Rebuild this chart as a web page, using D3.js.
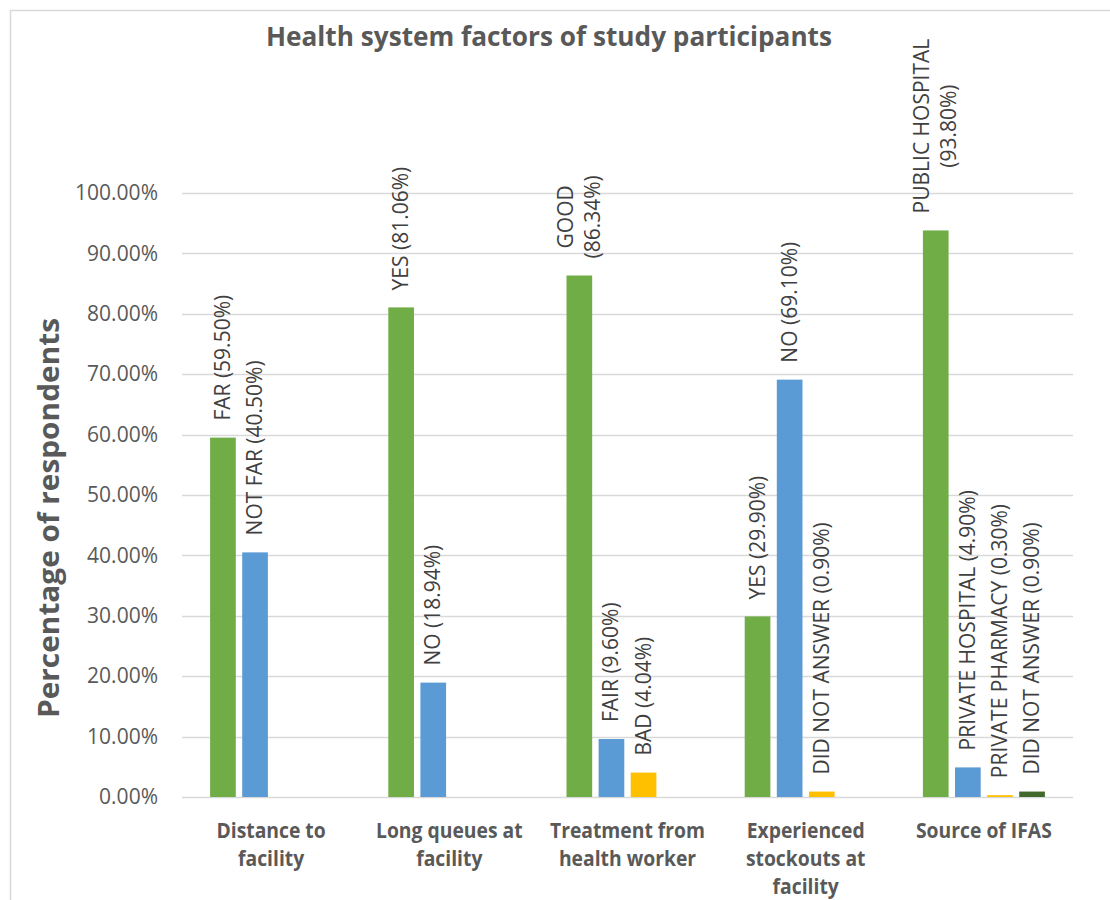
<!DOCTYPE html>
<html><head><meta charset="utf-8">
<script src="https://cdn.jsdelivr.net/npm/d3@7"></script>
<style>body{margin:0;background:#fff}svg{display:block}</style>
</head><body>
<svg id="c" width="1110" height="900"></svg>
<script>
const categories = [["Distance to","facility"],["Long queues at","facility"],["Treatment from","health worker"],["Experienced","stockouts at","facility"],["Source of IFAS"]];
const series1 = [59.50, 81.06, 86.34, 29.90, 93.80];
const series2 = [40.50, 18.94, 9.60, 69.10, 4.90];
const series3 = [null, null, 4.04, 0.90, 0.30];
const series4 = [null, null, null, null, 0.90];
const names1 = ["FAR","YES","GOOD","YES","PUBLIC HOSPITAL"];
const names2 = ["NOT FAR","NO","FAIR","NO","PRIVATE HOSPITAL"];
const names3 = [null,null,"BAD","DID NOT ANSWER","PRIVATE PHARMACY"];
const names4 = [null,null,null,null,"DID NOT ANSWER"];
const yTicks = [0,10,20,30,40,50,60,70,80,90,100];
const colors = ["#70AD47","#5B9BD5","#FFC000","#43682B"];

(function(){
const svg = d3.select("#c");
const pLeft = 182, pRight = 1073, pTop = 193, pBottom = 797;
const y = d3.scaleLinear().domain([0,100]).range([pBottom, pTop]);
const x0 = d3.scaleBand().domain(d3.range(categories.length)).range([pLeft, pRight]).paddingInner(0).paddingOuter(0);
const x1 = d3.scaleBand().domain([0,1,2,3]).range([0, 122]).paddingInner(0.2);
const groupOffset = (x0.bandwidth() - 122) / 2;
const LF = 21;

// chart border
svg.append("path").attr("d","M10.5,900 L10.5,10.5 L1110,10.5").attr("fill","none").attr("stroke","#D9D9D9").attr("stroke-width",1.5);

// gridlines
svg.append("g").selectAll("line").data(yTicks).join("line")
  .attr("x1", pLeft).attr("x2", pRight)
  .attr("y1", d => Math.round(y(d))+0.5).attr("y2", d => Math.round(y(d))+0.5)
  .attr("stroke","#D9D9D9").attr("stroke-width",1.5);

// y tick labels
const yAxis = d3.axisLeft(y).tickValues(yTicks).tickSize(0).tickPadding(0).tickFormat(d => d.toFixed(2)+"%");
const ga = svg.append("g").attr("transform",`translate(158,0)`).call(yAxis);
ga.select(".domain").remove();
ga.selectAll("text").attr("font-family","Open Sans").attr("font-size",21).attr("fill","#595959");

const allSeries = [series1, series2, series3, series4];
const allNames = [names1, names2, names3, names4];
const bars = [];
allSeries.forEach((s, si) => s.forEach((v, ci) => { if (v !== null) bars.push({si, ci, v, name: allNames[si][ci]}); }));

svg.append("g").selectAll("rect").data(bars).join("rect")
  .attr("x", d => x0(d.ci) + groupOffset + x1(d.si))
  .attr("width", x1.bandwidth())
  .attr("y", d => y(d.v))
  .attr("height", d => y(0) - y(d.v))
  .attr("fill", d => colors[d.si]);

// data labels
const lg = svg.append("g");
bars.forEach(d => {
  const cx = x0(d.ci) + groupOffset + x1(d.si) + x1.bandwidth()/2;
  const by = y(d.v) - 17;
  const pct = "(" + d.v.toFixed(2) + "%)";
  const isTwo = (d.si === 0 && (d.ci === 2 || d.ci === 4));
  const t = lg.append("text")
    .attr("font-family","Open Sans").attr("font-size",LF).attr("fill","#404040")
    .attr("transform", `translate(${cx},${by}) rotate(-90)`);
  if (isTwo) {
    const lines = [d.name, pct];
    t.attr("text-anchor","middle");
    const tmp = lines.map(l => { const e = lg.append("text").attr("font-family","Open Sans").attr("font-size",LF).text(l); const w = e.node().getComputedTextLength(); e.remove(); return w; });
    const wmax = Math.max(...tmp);
    t.attr("transform", `translate(${cx},${by - wmax/2}) rotate(-90)`);
    lines.forEach((l, i) => t.append("tspan").attr("x",0).attr("y", (i - 0.5) * 27 + 7).text(l));
  } else {
    t.attr("text-anchor","start").attr("y", 7).text(d.name + " " + pct);
  }
});

// x category labels
const xg = svg.append("g");
categories.forEach((lines, ci) => {
  const cx = x0(ci) + x0.bandwidth()/2;
  lines.forEach((l, li) => {
    const t = xg.append("text").attr("x", cx).attr("y", 838 + li*28)
      .attr("text-anchor","middle").attr("font-family","Open Sans").attr("font-weight","bold")
      .attr("font-size",21).attr("fill","#595959").text(l);
    const w = t.node().getComputedTextLength();
    t.attr("textLength", w*0.92).attr("lengthAdjust","spacingAndGlyphs");
  });
});

// title
svg.append("text").attr("x", 549).attr("y", 46).attr("text-anchor","middle")
  .attr("font-family","Open Sans").attr("font-weight","bold").attr("font-size",26)
  .attr("fill","#595959").attr("textLength",566).attr("lengthAdjust","spacingAndGlyphs")
  .text("Health system factors of study participants");

// y axis title
svg.append("text").attr("transform","translate(59,518) rotate(-90)").attr("text-anchor","middle")
  .attr("font-family","Open Sans").attr("font-weight","bold").attr("font-size",28)
  .attr("fill","#595959").attr("textLength",400).attr("lengthAdjust","spacingAndGlyphs")
  .text("Percentage of respondents");
})();
</script>
</body></html>
